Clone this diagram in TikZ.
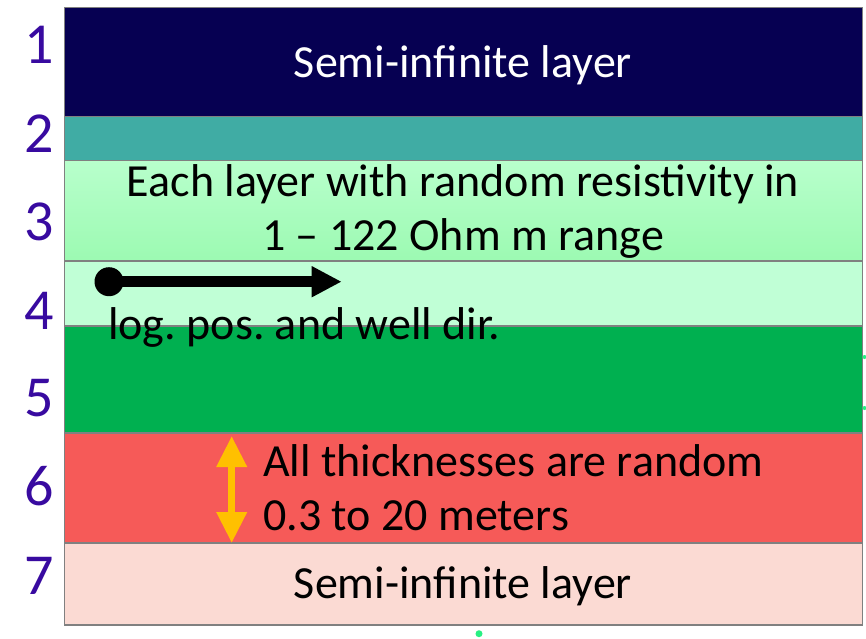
\documentclass[tikz,border=0pt]{standalone}
\usepackage{fontspec}
\setmainfont{Carlito}
\usetikzlibrary{arrows.meta}
\frenchspacing
\definecolor{lone}{RGB}{6,0,82}
\definecolor{ltwo}{RGB}{64,172,164}
\definecolor{lthreetop}{RGB}{184,255,204}
\definecolor{lthreebot}{RGB}{156,250,178}
\definecolor{lfour}{RGB}{192,255,214}
\definecolor{lfive}{RGB}{0,176,80}
\definecolor{lsix}{RGB}{246,90,88}
\definecolor{lseven}{RGB}{251,218,211}
\definecolor{numcol}{RGB}{56,10,160}
\definecolor{edgegray}{RGB}{128,128,128}
\definecolor{arrorange}{RGB}{255,192,0}
\definecolor{handle}{RGB}{40,240,130}
\tikzset{
  sep/.style={draw=edgegray, line width=1.3pt},
  num/.style={text=numcol, font=\fontsize{58}{60}\selectfont, anchor=base, inner sep=0pt},
  lbl/.style={text=black, font=\fontsize{46}{50}\selectfont, anchor=base, inner sep=0pt},
  lblw/.style={lbl, anchor=base west},
}
\begin{document}
\begin{tikzpicture}[x=1pt,y=-1pt]
\useasboundingbox (0,0) rectangle (866,638);
\fill[white] (0,0) rectangle (866,638);
% layers
\fill[lone] (64.5,7.5) rectangle (862.5,116.3);
\fill[ltwo] (64.5,116.3) rectangle (862.5,160.3);
\shade[top color=lthreetop, bottom color=lthreebot] (64.5,160.3) rectangle (862.5,261);
\fill[lfour] (64.5,261) rectangle (862.5,326);
\fill[lfive] (64.5,326) rectangle (862.5,433);
\fill[lsix] (64.5,433) rectangle (862.5,543);
\fill[lseven] (64.5,543) rectangle (862.5,625);
\foreach \yy in {116.3,160.3,261,326,433,543}
  \draw[sep] (64.5,\yy) -- (862.5,\yy);
\draw[sep] (64.5,7.5) rectangle (862.5,625);
% handles
\fill[handle] (479,633.7) circle (3.5);
\fill[handle] (864.5,357) circle (2);
\fill[handle] (864.5,408) circle (2);
% numbers
\node[num] (n1) at (39,63) {1};
\node[num] (n2) at (39,152) {2};
\node[num] (n3) at (39,240) {3};
\node[num] (n4) at (39,329) {4};
\node[num] (n5) at (39,416) {5};
\node[num] (n6) at (39,505) {6};
\node[num] (n7) at (39,594) {7};
% texts
\node[lbl, text=white] (t1) at (463,77) {Semi-infinite layer};
\node[lbl] (t3a) at (463,196) {Each layer with random resistivity in};
\node[lbl] (t3b) at (463,250) {1 – 122 Ohm m range};
\node[lblw] (t4) at (108,339) {log. pos. and well dir.};
\node[lblw] (t6a) at (263,476) {All thicknesses are random};
\node[lblw] (t6b) at (263,530) {0.3 to 20 meters};
\node[lbl] (t7) at (463,598) {Semi-infinite layer};
% black arrow
\coordinate (bstart) at (109,281.7);
\coordinate (bend) at (341.7,281.7);
\fill[black] (bstart) circle (14.5);
\draw[line width=11pt, -{Triangle[length=30pt,width=29pt]}] (bstart) -- (bend);
% orange arrow
\coordinate (otop) at (231.7,436);
\coordinate (obot) at (231.7,543);
\draw[arrorange, line width=7pt, {Triangle[length=31pt,width=29pt]}-{Triangle[length=31pt,width=29pt]}] (otop) -- (obot);
\end{tikzpicture}
\end{document}
